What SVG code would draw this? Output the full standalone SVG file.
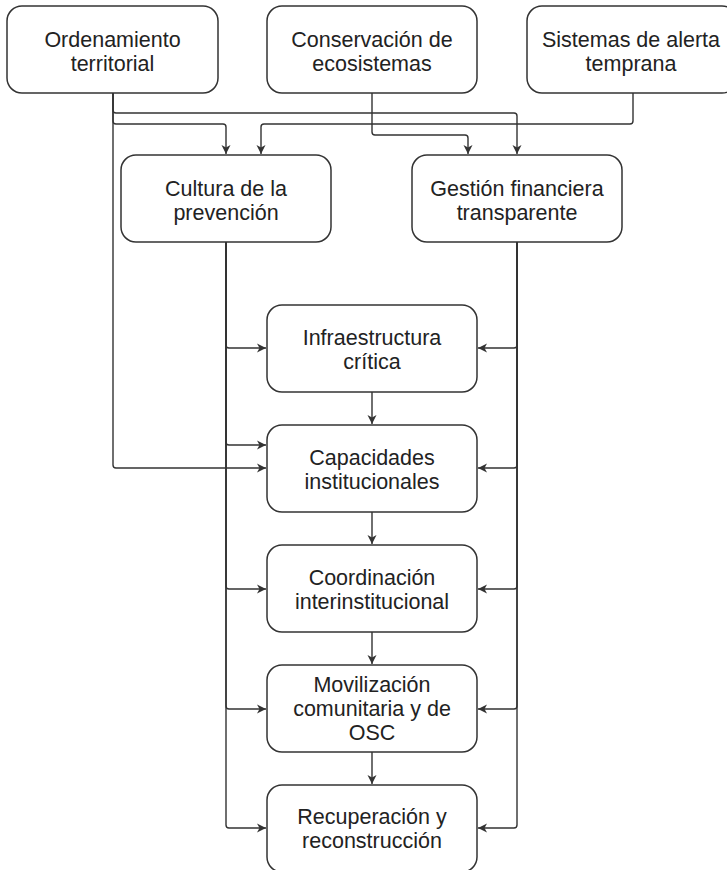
<svg xmlns="http://www.w3.org/2000/svg" width="727" height="870" viewBox="0 0 727 870">
<style>
.box{fill:#fff;stroke:#333;stroke-width:1.5}
.lbl{font-family:"Liberation Sans",Arial,sans-serif;font-size:21.5px;fill:#222;text-anchor:middle}
.c{fill:none;stroke:#333;stroke-width:1.4;marker-end:url(#ah)}
</style>
<defs>
<marker id="ah" markerWidth="12" markerHeight="12" refX="10" refY="6" orient="auto" markerUnits="userSpaceOnUse">
<path d="M1,1.5 L10,6 L1,10.5 L3.5,6 Z" fill="#333"/>
</marker>
</defs>
<rect width="727" height="870" fill="#fff"/>
<g id="connectors">
<path class="c" d="M113 93 V465 Q113 468 116 468 H266"/>
<path class="c" d="M113 93 V110 Q113 113 116 113 H514 Q517 113 517 116 V154"/>
<path class="c" d="M113 93 V121 Q113 124 116 124 H223 Q226 124 226 127 V154"/>
<path class="c" d="M372 93 V132 Q372 135 375 135 H465 Q468 135 468 138 V154"/>
<path class="c" d="M633 93 V121 Q633 124 630 124 H264 Q261 124 261 127 V154"/>
<path class="c" d="M226 242 V345 Q226 348 229 348 H266"/>
<path class="c" d="M226 242 V442 Q226 445 229 445 H266"/>
<path class="c" d="M226 242 V586 Q226 589 229 589 H266"/>
<path class="c" d="M226 242 V706 Q226 709 229 709 H266"/>
<path class="c" d="M226 242 V825 Q226 828 229 828 H266"/>
<path class="c" d="M517 242 V345 Q517 348 514 348 H478"/>
<path class="c" d="M517 242 V465 Q517 468 514 468 H478"/>
<path class="c" d="M517 242 V586 Q517 589 514 589 H478"/>
<path class="c" d="M517 242 V706 Q517 709 514 709 H478"/>
<path class="c" d="M517 242 V825 Q517 828 514 828 H478"/>
<path class="c" d="M372 392 V424"/>
<path class="c" d="M372 512 V544"/>
<path class="c" d="M372 632 V664"/>
<path class="c" d="M372 752 V784"/>
</g>
<g id="ordenamiento"><rect class="box" x="7" y="6" width="211" height="87" rx="15"/><text class="lbl" x="112.5" y="47">Ordenamiento</text><text class="lbl" x="112.5" y="71">territorial</text></g>
<g id="conservacion"><rect class="box" x="267" y="6" width="210" height="87" rx="15"/><text class="lbl" x="372" y="47">Conservación de</text><text class="lbl" x="372" y="71">ecosistemas</text></g>
<g id="sistemas"><rect class="box" x="527" y="6" width="210" height="87" rx="15"/><text class="lbl" x="631" y="47">Sistemas de alerta</text><text class="lbl" x="631" y="71">temprana</text></g>
<g id="cultura"><rect class="box" x="121" y="155" width="210" height="87" rx="15"/><text class="lbl" x="226" y="196">Cultura de la</text><text class="lbl" x="226" y="220">prevención</text></g>
<g id="gestion"><rect class="box" x="412" y="155" width="210" height="87" rx="15"/><text class="lbl" x="517" y="196">Gestión financiera</text><text class="lbl" x="517" y="220">transparente</text></g>
<g id="infraestructura"><rect class="box" x="267" y="305" width="210" height="87" rx="15"/><text class="lbl" x="372" y="345">Infraestructura</text><text class="lbl" x="372" y="369">crítica</text></g>
<g id="capacidades"><rect class="box" x="267" y="425" width="210" height="87" rx="15"/><text class="lbl" x="372" y="465">Capacidades</text><text class="lbl" x="372" y="489">institucionales</text></g>
<g id="coordinacion"><rect class="box" x="267" y="545" width="210" height="87" rx="15"/><text class="lbl" x="372" y="585">Coordinación</text><text class="lbl" x="372" y="609">interinstitucional</text></g>
<g id="movilizacion"><rect class="box" x="267" y="665" width="210" height="87" rx="15"/><text class="lbl" x="372" y="692">Movilización</text><text class="lbl" x="372" y="716">comunitaria y de</text><text class="lbl" x="372" y="740">OSC</text></g>
<g id="recuperacion"><rect class="box" x="267" y="785" width="210" height="87" rx="15"/><text class="lbl" x="372" y="824">Recuperación y</text><text class="lbl" x="372" y="848">reconstrucción</text></g>
</svg>
